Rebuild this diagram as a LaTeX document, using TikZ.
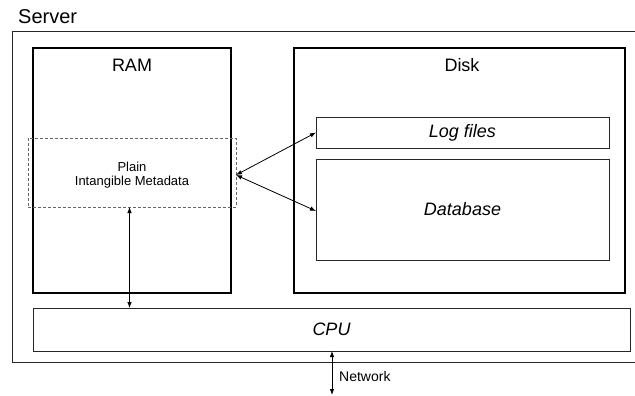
\documentclass[tikz,border=0pt]{standalone}
\usepackage{fontspec}
\setmainfont{Liberation Sans}
\usetikzlibrary{arrows.meta}
\begin{document}
\begin{tikzpicture}[x=1pt,y=-1pt,
  box/.style={rectangle, inner sep=0pt, outer sep=0pt},
  thinbox/.style={box, draw=black!85, line width=0.9pt},
  thickbox/.style={box, draw=black, line width=2.3pt},
  dashbox/.style={box, draw=black!60, dash pattern=on 3pt off 2pt, line width=0.9pt},
  conn/.style={line width=0.8pt, {Latex[length=6pt,width=4.5pt]}-{Latex[length=6pt,width=4.5pt]}},
  big/.style={font=\fontsize{18}{21}\selectfont},
  bigit/.style={font=\fontsize{18}{21}\selectfont\itshape},
]
\useasboundingbox (0,0) rectangle (635,396);
\clip (0,0) rectangle (635,396);

% server
\node[thinbox, minimum width=688pt, minimum height=331pt] (server) at (356,196.5) {};
\node[anchor=base west, inner sep=0pt, font=\fontsize{20}{24}\selectfont] (serverlbl) at (18,24) {Server};

% RAM
\node[thickbox, minimum width=198pt, minimum height=245pt] (ram) at (132,170.5) {};
\node[anchor=base, inner sep=0pt, big] (ramlbl) at (132,72) {RAM};

% Disk
\node[thickbox, minimum width=331pt, minimum height=245pt] (disk) at (459.5,170.5) {};
\node[anchor=base, inner sep=0pt, big] (disklbl) at (462,72) {Disk};

% Log files / Database
\node[thinbox, minimum width=293pt, minimum height=31pt, bigit] (log) at (462.5,132.5) {Log files};
\node[thinbox, minimum width=293pt, minimum height=101pt, bigit] (db) at (462.5,209.5) {Database};

% Metadata
\node[dashbox, minimum width=208pt, minimum height=69pt] (meta) at (132,172.5) {};
\node[inner sep=0pt, align=center, font=\fontsize{13}{13.5}\selectfont] (metalbl) at (132,175) {Plain\\Intangible Metadata};

% CPU
\node[thinbox, minimum width=597pt, minimum height=43pt, bigit] (cpu) at (331.5,329.5) {CPU};

% connectors
\coordinate (src) at (236,175);
\draw[conn] (src) -- (log.west);
\draw[conn] (src) -- (316,211);

\coordinate (rx) at (129.5,0);
\draw[conn] (meta.south -| rx) -- (cpu.north -| rx);

\coordinate (net) at (332,395);
\draw[conn] (cpu.south -| net) -- (net);
\node[anchor=base west, inner sep=0pt, font=\fontsize{14}{16}\selectfont] (netlbl) at (339,381) {Network};
\end{tikzpicture}
\end{document}
